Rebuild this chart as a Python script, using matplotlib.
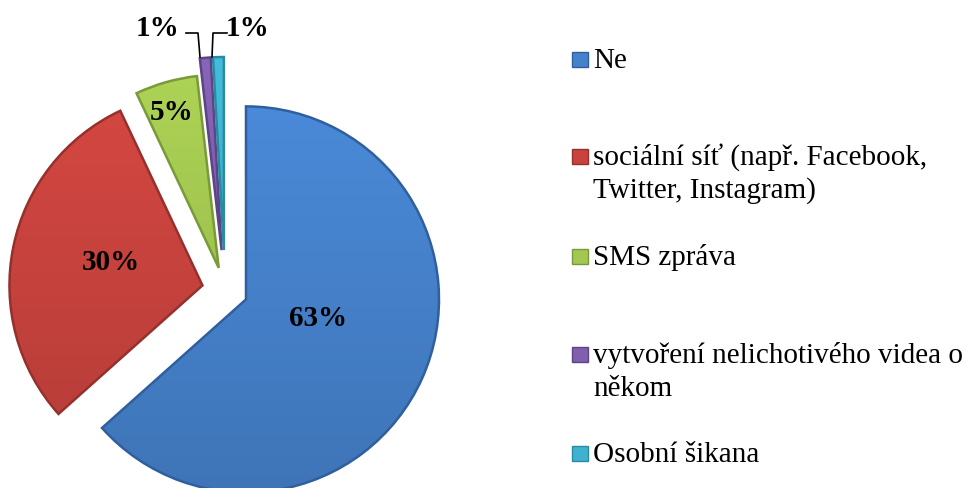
import numpy as np
import matplotlib
matplotlib.use('Agg')
import matplotlib.pyplot as plt
from matplotlib.colors import to_rgb
from matplotlib.patches import Rectangle

# data
categories = ["Ne",
              "sociální síť (např. Facebook,\nTwitter, Instagram)",
              "SMS zpráva",
              "vytvoření nelichotivého videa o\nněkom",
              "Osobní šikana"]
values = [63.4, 29.6, 5.2, 0.9, 0.9]
pct_labels = ["63%", "30%", "5%", "1%", "1%"]

colors = ['#4682cc', '#c9433e', '#a3c750', '#7f5fae', '#3fb2cf']
edges = ['#2f5f9e', '#96302c', '#789a38', '#5c4485', '#2a8aa3']

W, H = 966, 488
fig = plt.figure(figsize=(W / 100, H / 100), dpi=100)
ax = fig.add_axes([0, 0, 1, 1])

# pie in pixel units (y up)
cx, cy, R = 225, H - 290, 193
wedges, _ = ax.pie(values, center=(cx, cy), radius=R, startangle=90,
                   counterclock=False, explode=[23, 23, 23, 40, 40],
                   colors=colors, wedgeprops=dict(linewidth=1.8), frame=True)

# slight top-to-bottom shading inside every wedge
for w, col, ec in zip(wedges, colors, edges):
    w.set_edgecolor(ec)
    base = np.array(to_rgb(col))
    t = np.linspace(0, 1, 256)[:, None]
    grad = base * (1.06 - 0.16 * t)
    img = np.clip(np.repeat(grad[:, None, :], 2, axis=1), 0, 1)
    x0, y0 = w.center[0] - R, w.center[1] - R
    im = ax.imshow(img, extent=(x0, x0 + 2 * R, y0, y0 + 2 * R),
                   origin='upper', zorder=w.get_zorder(), aspect='auto')
    im.set_clip_path(w)
    w.set_facecolor('none')
    w.set_zorder(im.get_zorder() + 0.1)

ax.set_xlim(0, W)
ax.set_ylim(0, H)
ax.set_aspect('equal')
ax.axis('off')

font = dict(family='Liberation Serif', fontweight='bold', fontsize=21)
ax.text(318, H - 318, pct_labels[0], ha='center', va='center', zorder=5, **font)
ax.text(111, H - 263, pct_labels[1], ha='center', va='center', zorder=5, **font)
ax.text(172, H - 113, pct_labels[2], ha='center', va='center', zorder=5, **font)
ax.text(157, H - 29, pct_labels[3], ha='center', va='center', zorder=5, **font)
ax.text(248, H - 29, pct_labels[4], ha='center', va='center', zorder=5, **font)

# leader lines for the small slices
ax.plot([186, 198, 200], [H - 33, H - 33, H - 57], color='black', lw=1.2)
ax.plot([227, 213, 212], [H - 33, H - 33, H - 57], color='black', lw=1.2)

# legend drawn by hand (baselines)
leg_base = [68, 165, 265, 363, 462]
for lab, col, ec, yb in zip(categories, colors, edges, leg_base):
    ax.add_patch(Rectangle((572, H - yb + 1), 16, 15, facecolor=col,
                           edgecolor=ec, lw=1))
    lines = lab.split('\n')
    for k, ln in enumerate(lines):
        ax.text(593, H - yb - 33 * k, ln, ha='left', va='baseline',
                fontsize=21, family='Liberation Serif')

fig.savefig('out.png', dpi=100)
